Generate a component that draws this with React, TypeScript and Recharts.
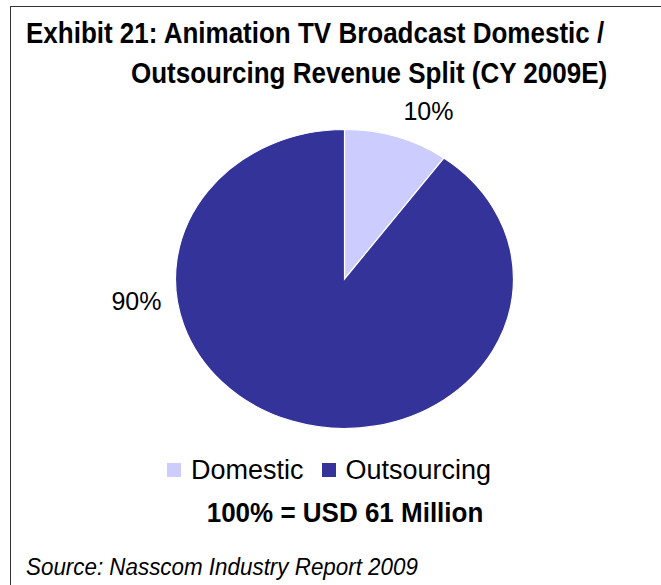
import React from "react";
import { PieChart, Pie, Cell, Legend } from "recharts";

const categories = ["Domestic", "Outsourcing"];
const shares = [10, 90];
const colors = ["#CCCCFF", "#333399"];
const titleLines = ["Exhibit 21: Animation TV Broadcast Domestic /", "Outsourcing Revenue Split (CY 2009E)"];
const totalNote = "100% = USD 61 Million";
const sourceNote = "Source: Nasscom Industry Report 2009";

const data = categories.map((name, i) => ({ name, value: shares[i] }));

const FONT = "'Liberation Sans', Arial, Helvetica, sans-serif";
const Y_SCALE = 149.5 / 169;
const RAD = Math.PI / 180;
// label anchor offsets (in units of outer radius) relative to the pie centre
const labelOffsets = [
  [0.497, -0.938],
  [-1.231, 0.186],
];

const EllipseSector = (props: any) => {
  const { cx, cy, outerRadius, startAngle, endAngle, fill } = props;
  const rx = outerRadius;
  const ry = outerRadius * Y_SCALE;
  const pt = (a: number) => [cx + rx * Math.cos(-a * RAD), cy + ry * Math.sin(-a * RAD)];
  const [x1, y1] = pt(startAngle);
  const [x2, y2] = pt(endAngle);
  const large = Math.abs(startAngle - endAngle) > 180 ? 1 : 0;
  const sweep = startAngle > endAngle ? 1 : 0;
  const d = `M${cx},${cy} L${x1},${y1} A${rx},${ry} 0 ${large} ${sweep} ${x2},${y2} Z`;
  return <path d={d} fill={fill} stroke="#ffffff" strokeWidth={1.2} />;
};

const renderLabel = (props: any) => {
  const { cx, cy, outerRadius, index, value } = props;
  const [fx, fy] = labelOffsets[index];
  return (
    <text
      x={cx + outerRadius * fx}
      y={cy + outerRadius * fy}
      textAnchor="middle"
      fontFamily={FONT}
      fontSize={25}
      fill="#000"
    >
      {`${value}%`}
    </text>
  );
};

const LegendContent = () => (
  <div style={{ display: "flex", alignItems: "center", fontFamily: FONT, fontSize: 27, color: "#000" }}>
    {categories.map((c, i) => (
      <div key={c} style={{ display: "flex", alignItems: "center", marginRight: 18 }}>
        <span style={{ display: "inline-block", width: 14, height: 14, background: colors[i], marginRight: 10 }} />
        <span style={{ lineHeight: "30px" }}>{c}</span>
      </div>
    ))}
  </div>
);

const StretchText = ({ x, y, sy, children, ...rest }: any) => (
  <text transform={`translate(${x},${y}) scale(1,${sy})`} x={0} y={0} fontFamily={FONT} fill="#000" {...rest}>
    {children}
  </text>
);

export default function App() {
  return (
    <div style={{ position: "absolute", left: 0, top: 0, width: 661, height: 585, background: "#fff", overflow: "hidden" }}>
      <div style={{ position: "absolute", left: 10, top: 6, width: 660, height: 600, borderTop: "1.5px solid #333", borderLeft: "1.5px solid #333" }} />
      <svg width={661} height={585} style={{ position: "absolute", left: 0, top: 0 }}>
        <StretchText x={26} y={43} sy={1.12} fontWeight="bold" fontSize={26}>{titleLines[0]}</StretchText>
        <StretchText x={131} y={83} sy={1.12} fontWeight="bold" fontSize={26}>{titleLines[1]}</StretchText>
        <StretchText x={345} y={522} sy={1.08} textAnchor="middle" fontWeight="bold" fontSize={26}>{totalNote}</StretchText>
        <StretchText x={26} y={575} sy={1.08} fontStyle="italic" fontSize={22.4}>{sourceNote}</StretchText>
      </svg>
      <div style={{ position: "absolute", left: 0, top: 0 }}>
        <PieChart width={661} height={585} margin={{ top: 0, right: 0, bottom: 0, left: 0 }}>
          <Pie
            data={data}
            dataKey="value"
            nameKey="name"
            cx={344.5}
            cy={279}
            outerRadius={169}
            startAngle={90}
            endAngle={-270}
            isAnimationActive={false}
            shape={EllipseSector}
            label={renderLabel}
            labelLine={false}
          >
            {data.map((d, i) => (
              <Cell key={d.name} fill={colors[i]} />
            ))}
          </Pie>
          <Legend
            content={<LegendContent />}
            wrapperStyle={{ position: "absolute", left: 167, top: 455, width: "auto" }}
          />
        </PieChart>
      </div>
    </div>
  );
}
